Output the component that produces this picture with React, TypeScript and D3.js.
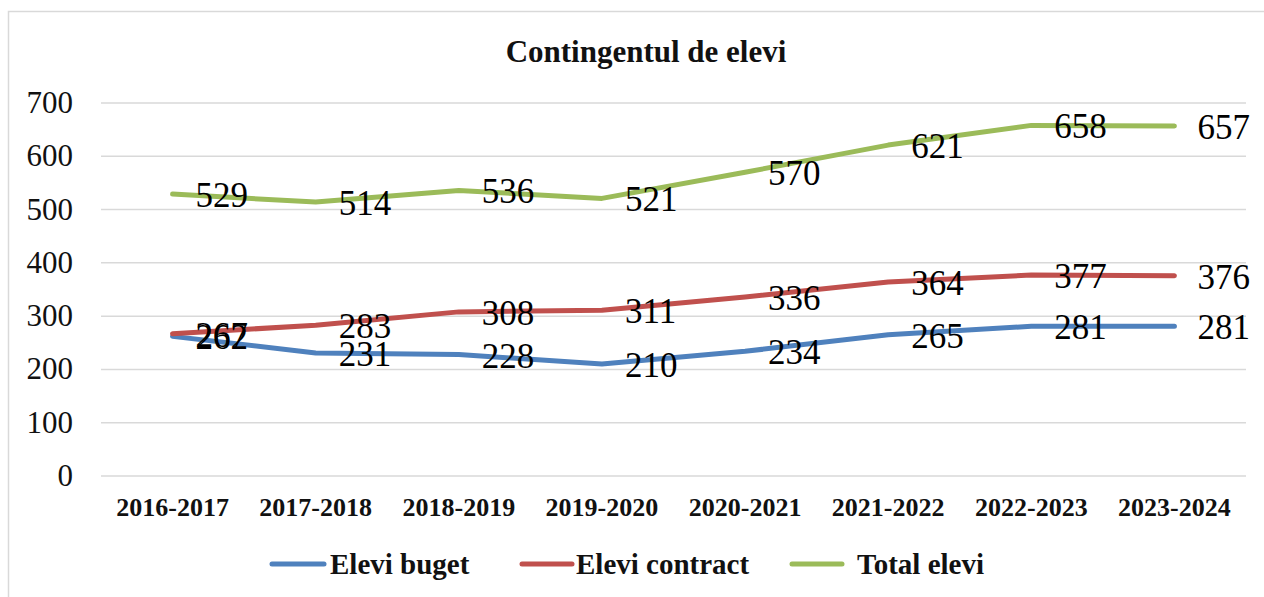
import React from 'react';
import * as d3 from 'd3';

const years = ['2016-2017', '2017-2018', '2018-2019', '2019-2020', '2020-2021', '2021-2022', '2022-2023', '2023-2024'];
const eleviBuget = [262, 231, 228, 210, 234, 265, 281, 281];
const eleviContract = [267, 283, 308, 311, 336, 364, 377, 376];
const totalElevi = [529, 514, 536, 521, 570, 621, 658, 657];
const yTicks = [0, 100, 200, 300, 400, 500, 600, 700];

const series = [
  { name: 'Elevi buget', values: eleviBuget, color: '#4f81bd' },
  { name: 'Elevi contract', values: eleviContract, color: '#c0504d' },
  { name: 'Total elevi', values: totalElevi, color: '#9bbb59' },
];

// legend slots (line start/end, text start)
const legendItems = [
  { x1: 272, x2: 324, tx: 330 },
  { x1: 522, x2: 572, tx: 576 },
  { x1: 792, x2: 842, tx: 857 },
];

const serif = { fontFamily: 'Liberation Serif' };

const App = () => {
  const left = 101, right = 1246;
  const x = d3.scaleBand().domain(years).range([left, right]);
  const y = d3.scaleLinear().domain([0, 700]).range([476, 103]);
  const cx = (d: string) => (x(d) as number) + x.bandwidth() / 2;

  const line = d3.line<number>()
    .x((_, i) => cx(years[i]))
    .y(d => y(d));

  return (
    <svg width={1264} height={597}
      style={{ position: 'absolute', left: 0, top: 0, background: '#fff' }}>
      {/* frame: only left and top edges are visible */}
      <path d="M8.5,600 L8.5,11.5 L1270,11.5" fill="none" stroke="#d9d9d9" strokeWidth={1.5} />

      <text x={646} y={62} textAnchor="middle" fontWeight="bold" fontSize={31} fill="#111" style={serif}>
        Contingentul de elevi
      </text>

      {yTicks.map(t => (
        <g key={t}>
          <line x1={left} x2={right} y1={y(t)} y2={y(t)} stroke="#d9d9d9" strokeWidth={1.5} />
          <text x={73} y={y(t) + 10} textAnchor="end" fontSize={31} fill="#111" style={serif}>{t}</text>
        </g>
      ))}

      {years.map(yr => (
        <text key={yr} x={cx(yr)} y={516} textAnchor="middle" fontWeight="bold" fontSize={26} fill="#111" style={serif}>
          {yr}
        </text>
      ))}

      {series.map(s => (
        <path key={s.name} d={line(s.values) as string} fill="none" stroke={s.color}
          strokeWidth={5} strokeLinecap="round" strokeLinejoin="round" />
      ))}

      {series.map(s => (
        <g key={s.name + '-labels'}>
          {s.values.map((v, i) => (
            <text key={i} x={cx(years[i]) + 23} y={y(v) + 13} fontSize={35} fill="#000" style={serif}>{v}</text>
          ))}
        </g>
      ))}

      {series.map((s, i) => {
        const it = legendItems[i];
        return (
          <g key={s.name + '-legend'}>
            <line x1={it.x1} x2={it.x2} y1={564} y2={564} stroke={s.color} strokeWidth={5} strokeLinecap="round" />
            <text x={it.tx} y={574} fontWeight="bold" fontSize={29} fill="#111" style={serif}>{s.name}</text>
          </g>
        );
      })}
    </svg>
  );
};

export default App;
